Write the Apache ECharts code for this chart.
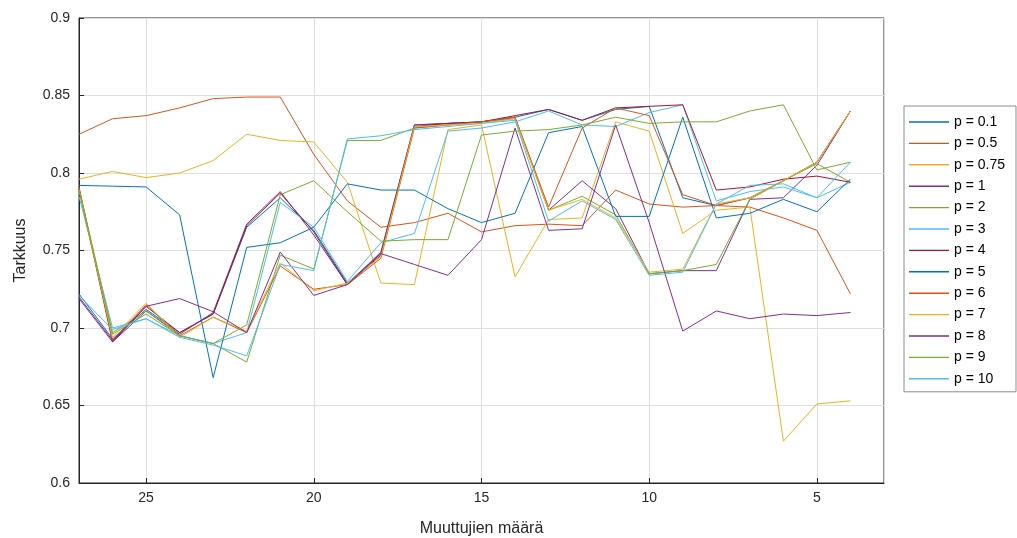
<!DOCTYPE html>
<html>
<head>
<meta charset="utf-8">
<script src="https://cdn.jsdelivr.net/npm/echarts@6/dist/echarts.min.js"></script>
<style>
  html, body { margin: 0; padding: 0; background: #fff; }
  #chart { width: 1017px; height: 538px; }
</style>
</head>
<body>
<div id="chart"></div>
<script>
// muuttujien määrä (x), 27 -> 4
const xVals = [27, 26, 25, 24, 23, 22, 21, 20, 19, 18, 17, 16, 15, 14, 13, 12, 11, 10, 9, 8, 7, 6, 5, 4]

const p01 = [0.722, 0.693, 0.712, 0.697, 0.709, 0.765, 0.784, 0.763, 0.729, 0.748, 0.831, 0.832, 0.833, 0.836, 0.841, 0.834, 0.841, 0.843, 0.784, 0.779, 0.784, 0.795, 0.807, 0.840]
const p05 = [0.825, 0.835, 0.837, 0.842, 0.848, 0.849, 0.849, 0.812, 0.782, 0.765, 0.768, 0.774, 0.762, 0.766, 0.767, 0.766, 0.789, 0.780, 0.778, 0.779, 0.778, 0.771, 0.763, 0.722]
const p075 = [0.796, 0.801, 0.797, 0.800, 0.808, 0.825, 0.821, 0.820, 0.794, 0.729, 0.728, 0.828, 0.831, 0.733, 0.770, 0.771, 0.833, 0.827, 0.761, 0.776, 0.778, 0.627, 0.651, 0.653]
const p1 = [0.719, 0.691, 0.711, 0.696, 0.710, 0.767, 0.788, 0.760, 0.728, 0.749, 0.831, 0.832, 0.833, 0.836, 0.776, 0.795, 0.777, 0.735, 0.737, 0.737, 0.783, 0.784, 0.805, 0.840]
const p2 = [0.790, 0.697, 0.711, 0.695, 0.690, 0.678, 0.747, 0.738, 0.821, 0.821, 0.829, 0.831, 0.833, 0.835, 0.776, 0.785, 0.773, 0.735, 0.737, 0.741, 0.783, 0.795, 0.806, 0.794]
const p3 = [0.785, 0.700, 0.706, 0.695, 0.690, 0.697, 0.781, 0.765, 0.730, 0.755, 0.761, 0.827, 0.829, 0.833, 0.840, 0.831, 0.830, 0.839, 0.844, 0.782, 0.788, 0.791, 0.784, 0.794]
const p4 = [0.790, 0.691, 0.714, 0.697, 0.709, 0.766, 0.787, 0.762, 0.728, 0.747, 0.830, 0.832, 0.833, 0.837, 0.841, 0.834, 0.842, 0.843, 0.844, 0.789, 0.791, 0.796, 0.798, 0.794]
const p5 = [0.792, 0.7915, 0.791, 0.773, 0.668, 0.752, 0.755, 0.765, 0.793, 0.789, 0.789, 0.777, 0.768, 0.774, 0.826, 0.830, 0.772, 0.772, 0.836, 0.771, 0.774, 0.783, 0.775, 0.796]
const p6 = [0.791, 0.692, 0.715, 0.695, 0.707, 0.697, 0.740, 0.725, 0.728, 0.745, 0.829, 0.831, 0.833, 0.836, 0.778, 0.829, 0.842, 0.837, 0.786, 0.779, 0.784, 0.795, 0.807, 0.840]
const p7 = [0.789, 0.694, 0.716, 0.694, 0.707, 0.698, 0.742, 0.724, 0.729, 0.746, 0.830, 0.831, 0.832, 0.835, 0.776, 0.783, 0.771, 0.736, 0.738, 0.780, 0.784, 0.795, 0.807, 0.840]
const p8 = [0.720, 0.692, 0.714, 0.719, 0.7105, 0.697, 0.749, 0.721, 0.728, 0.748, 0.741, 0.734, 0.757, 0.829, 0.763, 0.764, 0.831, 0.768, 0.698, 0.711, 0.706, 0.709, 0.708, 0.710]
const p9 = [0.789, 0.696, 0.709, 0.695, 0.690, 0.702, 0.786, 0.795, 0.775, 0.756, 0.757, 0.757, 0.8245, 0.827, 0.828, 0.831, 0.836, 0.832, 0.833, 0.833, 0.840, 0.844, 0.802, 0.807]
const p10 = [0.721, 0.699, 0.706, 0.694, 0.689, 0.682, 0.741, 0.737, 0.822, 0.824, 0.828, 0.830, 0.832, 0.834, 0.769, 0.782, 0.770, 0.734, 0.736, 0.780, 0.792, 0.793, 0.784, 0.807]

const seriesNames = ['p = 0.1', 'p = 0.5', 'p = 0.75', 'p = 1', 'p = 2', 'p = 3', 'p = 4', 'p = 5', 'p = 6', 'p = 7', 'p = 8', 'p = 9', 'p = 10']
const seriesData = [p01, p05, p075, p1, p2, p3, p4, p5, p6, p7, p8, p9, p10]

// matlab oletusvärit
const colors = ['#0072BD', '#D95319', '#EDB120', '#7E2F8E', '#77AC30', '#4DBEEE', '#A2142F']

const axisColor = '#262626'
const font = 'Liberation Sans, Arial, sans-serif'

const myChart = echarts.init(document.getElementById('chart'))

myChart.setOption({
  animation: false,
  color: colors,
  grid: {
    left: 79,
    right: 133,
    top: 18,
    bottom: 55,
    outerBoundsMode: 'none',
    show: true,
    borderColor: axisColor,
    borderWidth: 1
  },
  legend: {
    orient: 'vertical',
    left: 904,
    top: 106,
    data: seriesNames,
    icon: 'rect',
    itemWidth: 40,
    itemHeight: 1.4,
    itemGap: 7.4,
    padding: [9, 11, 6, 5],
    backgroundColor: '#fff',
    borderColor: '#8c8c8c',
    borderWidth: 1,
    textStyle: {
      fontFamily: font,
      fontSize: 14,
      lineHeight: 14,
      color: '#000'
    }
  },
  xAxis: {
    type: 'value',
    inverse: true,
    min: 3,
    max: 27,
    splitNumber: 5,
    name: 'Muuttujien määrä',
    nameLocation: 'middle',
    nameGap: 38,
    nameTextStyle: { fontFamily: font, fontSize: 16, color: axisColor },
    axisLine: { show: true, lineStyle: { color: axisColor } },
    axisTick: { show: true, inside: true, length: 5, lineStyle: { color: axisColor } },
    axisLabel: {
      showMinLabel: false,
      showMaxLabel: false,
      margin: 8,
      fontFamily: font,
      fontSize: 14,
      color: axisColor
    },
    splitLine: { show: true, lineStyle: { color: '#dfdfdf' } }
  },
  yAxis: {
    type: 'value',
    min: 0.6,
    max: 0.9,
    interval: 0.05,
    name: 'Tarkkuus',
    nameLocation: 'middle',
    nameGap: 50,
    nameTextStyle: { fontFamily: font, fontSize: 16, color: axisColor },
    axisLine: { show: true, lineStyle: { color: axisColor } },
    axisTick: { show: true, inside: true, length: 5, lineStyle: { color: axisColor } },
    axisLabel: {
      margin: 9,
      fontFamily: font,
      fontSize: 14,
      color: axisColor,
      formatter: v => String(+v.toFixed(2))
    },
    splitLine: { show: true, lineStyle: { color: '#dfdfdf' } }
  },
  series: seriesNames.map((name, i) => ({
    name: name,
    type: 'line',
    symbol: 'none',
    lineStyle: { width: 1 },
    data: xVals.map((x, j) => [x, seriesData[i][j]])
  }))
})
</script>
</body>
</html>
